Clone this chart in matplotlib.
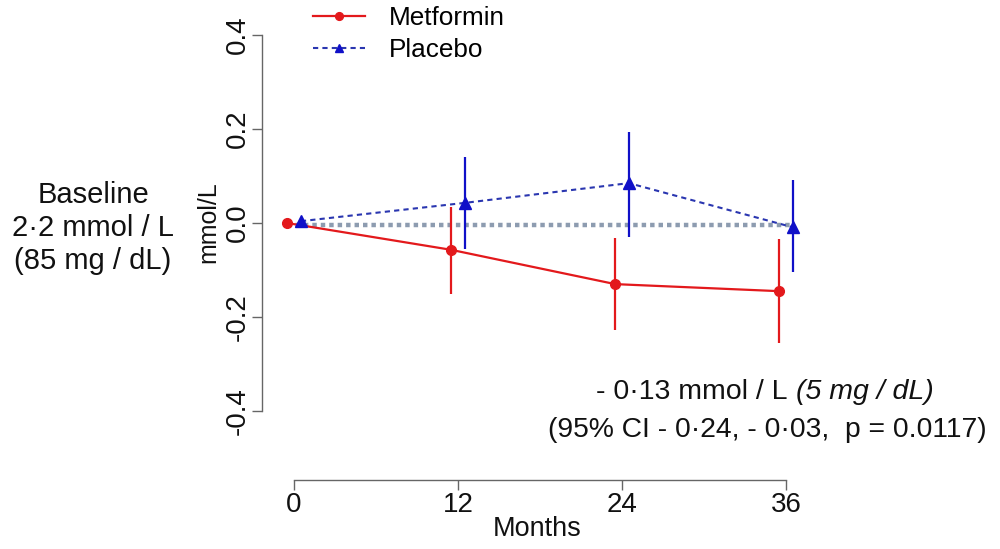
import numpy as np
import matplotlib
matplotlib.use("Agg")
import matplotlib.pyplot as plt

plt.rcParams['font.family'] = ['Liberation Sans', 'DejaVu Sans']

# data (mmol/L change from baseline)
months = np.array([0, 12, 24, 36])
metformin = np.array([0.0, -0.057, -0.130, -0.145])
metformin_lo = np.array([np.nan, -0.151, -0.228, -0.255])
metformin_hi = np.array([np.nan, 0.034, -0.032, -0.034])
placebo = np.array([0.004, 0.043, 0.085, -0.009])
placebo_lo = np.array([np.nan, -0.055, -0.030, -0.104])
placebo_hi = np.array([np.nan, 0.140, 0.194, 0.091])
ref_level = -0.004
yticks = [-0.4, -0.2, 0.0, 0.2, 0.4]

red = '#e3191c'
blue = '#1010c8'
navy = '#2a36b0'

fig = plt.figure(figsize=(10, 5.49), dpi=100)
W, H = 1000, 549
ax = fig.add_axes([262 / W, 1 - 480 / H, (812 - 262) / W, (480 - 30) / H])

dodge = 0.5
xr = months - dodge
xb = months + dodge

# reference dotted line
ax.plot([-0.5, 36.5], [ref_level, ref_level], color='#8d9cb0', lw=3.2,
        ls=(0, (1, 0.9)), zorder=1)

# error bars (no caps)
ax.vlines(xr, metformin_lo, metformin_hi, color=red, lw=1.6, zorder=2)
ax.vlines(xb, placebo_lo, placebo_hi, color=blue, lw=1.6, zorder=2)

ax.plot(xr, metformin, color=red, lw=1.6, marker='o', ms=7,
        label='Metformin', zorder=3)
ax.plot(xb, placebo, color=navy, lw=1.5, ls=(0, (2.5, 2)), marker='^',
        ms=8, mfc=blue, mec=blue, label='Placebo', zorder=3)

ax.set_xlim(-2.35, 37.9)
ax.set_ylim(-0.547, 0.411)

for s in ['top', 'right']:
    ax.spines[s].set_visible(False)
ax.spines['left'].set_bounds(-0.4, 0.4)
ax.spines['bottom'].set_bounds(0, 36)
for s in ['left', 'bottom']:
    ax.spines[s].set_color('#666666')
    ax.spines[s].set_linewidth(1.0)

ax.set_xticks(months)
ax.set_yticks(yticks)
ax.set_yticklabels(['%.1f' % v for v in yticks], rotation=90, va='center')
ax.tick_params(axis='both', colors='#666666', labelcolor='#111111',
               labelsize=20, length=7, width=1.0)
ax.tick_params(axis='y', pad=1)
ax.tick_params(axis='x', pad=2)

ax.set_xlabel('Months', fontsize=19.5, color='#111111', labelpad=-2)
fig.text(208 / W, 1 - 222 / H, 'mmol/L', rotation=90, fontsize=18,
         ha='center', va='center', color='#111111')

fig.text(93 / W, 1 - 228 / H, 'Baseline\n2·2 mmol / L\n(85 mg / dL)',
         fontsize=21, ha='center', va='center', linespacing=1.22,
         color='#111111')

fig.text(788 / W, 1 - 392 / H, '- 0·13 mmol / L', fontsize=20.5,
         ha='right', va='center', color='#111111')
fig.text(796 / W, 1 - 392 / H, '(5 mg / dL)', fontsize=20.5, style='italic',
         ha='left', va='center', color='#111111')
fig.text(767 / W, 1 - 430 / H, '(95% CI - 0·24, - 0·03,  p = 0.0117)',
         fontsize=20.3, ha='center', va='center', color='#111111')

h, l = ax.get_legend_handles_labels()
fig.legend(h, l, loc='upper left', bbox_to_anchor=(313 / W, 1 - 6 / H),
           frameon=False, fontsize=18.8, handlelength=2.0, handletextpad=0.9,
           labelspacing=0.3, borderpad=0, borderaxespad=0, markerscale=0.8)

fig.savefig('out.png', dpi=100)
